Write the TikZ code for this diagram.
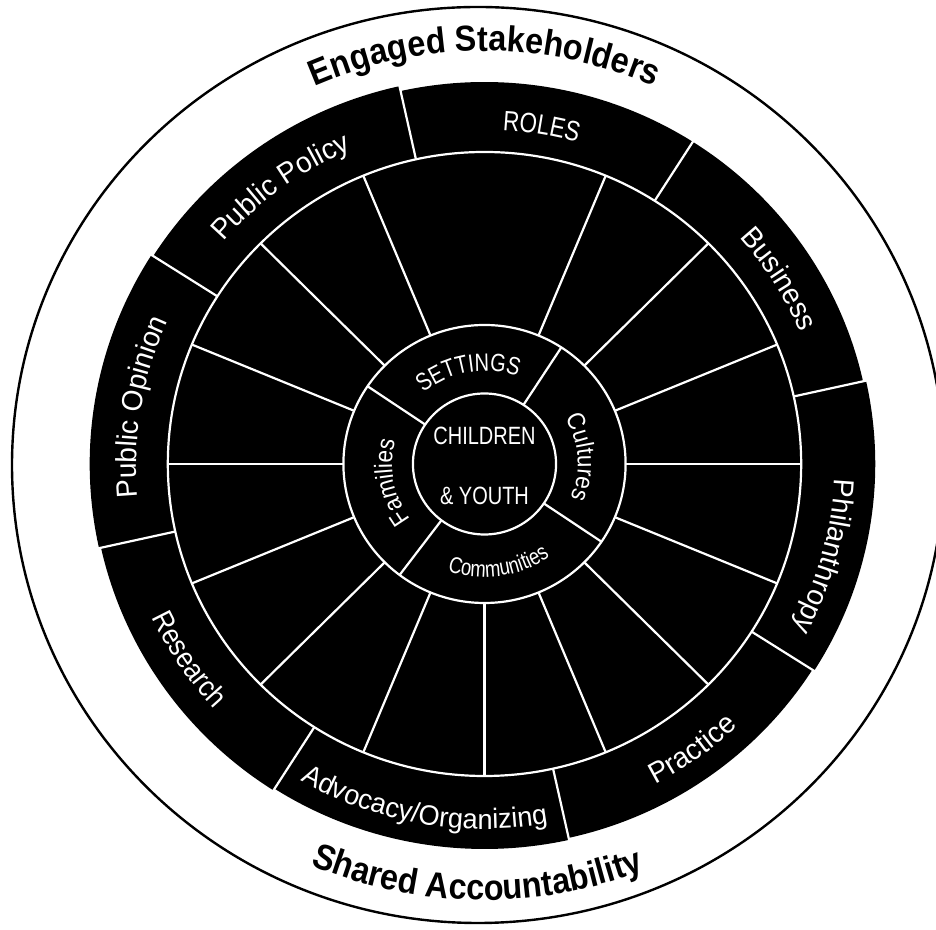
\documentclass[tikz,border=0pt]{standalone}
\usepackage{fontspec}
\usetikzlibrary{decorations.text}
\setmainfont{Liberation Sans}
\newfontfamily\condA{Liberation Sans}[FakeStretch=0.80]
\newfontfamily\condB{Liberation Sans}[FakeStretch=0.90]
\newfontfamily\condC{Liberation Sans}[FakeStretch=0.97]
\newfontfamily\titlef{Liberation Sans}[FakeStretch=0.90]
% text along an arc, tops pointing outward (reads clockwise)
\newcommand\arcout[6]{\path[decorate,decoration={text along path,text align=center,text color=#5,text={|#4|#6}}] ({#1+#3}:#2) arc[start angle={#1+#3},end angle={#1-#3},radius=#2];}
% text along an arc, tops pointing inward (reads counter-clockwise)
\newcommand\arcin[6]{\path[decorate,decoration={text along path,text align=center,text color=#5,text={|#4|#6}}] ({#1-#3}:#2) arc[start angle={#1-#3},end angle={#1+#3},radius=#2];}
\tikzset{
  wline/.style={white,line width=1.1pt},
  rimline/.style={black,line width=1.2pt},
  block/.style={fill=black},
}
\begin{document}
\begin{tikzpicture}[x=0.5pt,y=0.5pt]
\useasboundingbox (0,0) rectangle (936,930);
\fill[white] (0,0) rectangle (936,930);
\draw[rimline] (478,465) ellipse[x radius=466,y radius=458];
\begin{scope}[shift={(484.5,466)},xscale=1.015]
  % black disc under the blocks (avoids seams between sectors)
  \fill[block] (0,0) circle[radius=380];
  % black blocks of the outer band
  \foreach \a/\b/\R in {-32.5/12.5/385, 12.5/57.5/382, 57.5/102.5/382, 102.5/147.5/387, 147.5/192.5/389, 192.5/237.5/387, 237.5/282.5/385, 282.5/327.5/383}
    \fill[block] (0,0) -- (\a:\R) arc[start angle=\a,end angle=\b,radius=\R] -- cycle;
  % rings
  \draw[wline] (0,0) circle[radius=312];
  \draw[wline] (0,0) circle[radius=139];
  \draw[wline] (0,0) circle[radius=70.5];
  % boundaries of the outer band
  \foreach \a in {12.5,57.5,102.5,147.5,192.5,237.5,282.5,327.5}
    \draw[wline] (\a:312) -- (\a:394);
  % spokes of the middle ring
  \foreach \a in {0,22.5,45,67.5,112.5,135,157.5,180,202.5,225,247.5,270,292.5,315,337.5}
    \draw[wline] (\a:139) -- (\a:312);
  % dividers of the settings ring
  \foreach \a in {57,146,233,326}
    \draw[wline] (\a:70.5) -- (\a:139);
  % outer band labels
  \arcout{80.5}{334}{30}{\condA\fontsize{14}{16}\selectfont}{white}{ROLES}
  \arcout{126}{340}{30}{\condC\fontsize{14.5}{17}\selectfont}{white}{Public Policy}
  \arcout{170.5}{343}{30}{\condC\fontsize{14.5}{17}\selectfont}{white}{Public Opinion}
  \arcout{32.4}{338}{30}{\condC\fontsize{14.5}{17}\selectfont}{white}{Business}
  \arcout{-15.4}{345}{30}{\condC\fontsize{14.5}{17}\selectfont}{white}{Philanthropy}
  \arcin{213.8}{362}{30}{\condB\fontsize{14.5}{17}\selectfont}{white}{Research}
  \arcin{260}{365}{30}{\condC\fontsize{14}{17}\selectfont}{white}{Advocacy/Organizing}
  \arcin{305.7}{362}{30}{\condC\fontsize{14.5}{17}\selectfont}{white}{Practice}
  % settings ring labels
  \arcout{100}{93}{60}{\condA\fontsize{12.5}{15}\selectfont}{white}{SETTINGS}
  \arcout{4}{92}{60}{\condB\fontsize{12.5}{15}\selectfont}{white}{Cultures}
  \arcout{191}{91}{60}{\condB\fontsize{12.5}{15}\selectfont}{white}{Families}
  \arcin{278}{113}{60}{\condA\fontsize{11.5}{14}\selectfont}{white}{Communities}
  % titles in the white rim
  \arcout{90}{413}{40}{\titlef\bfseries\fontsize{18}{20}\selectfont}{black}{Engaged Stakeholders}
  \arcin{269}{436}{40}{\titlef\bfseries\fontsize{18}{20}\selectfont}{black}{Shared Accountability}
  % centre
  \node[white,font={\condA\fontsize{12.5}{15}\selectfont},anchor=base,inner sep=0pt] (children) at (0,19) {CHILDREN};
  \node[white,font={\condA\fontsize{12.5}{15}\selectfont},anchor=base,inner sep=0pt] (youth) at (0,-41) {\& YOUTH};
\end{scope}
\end{tikzpicture}
\end{document}
